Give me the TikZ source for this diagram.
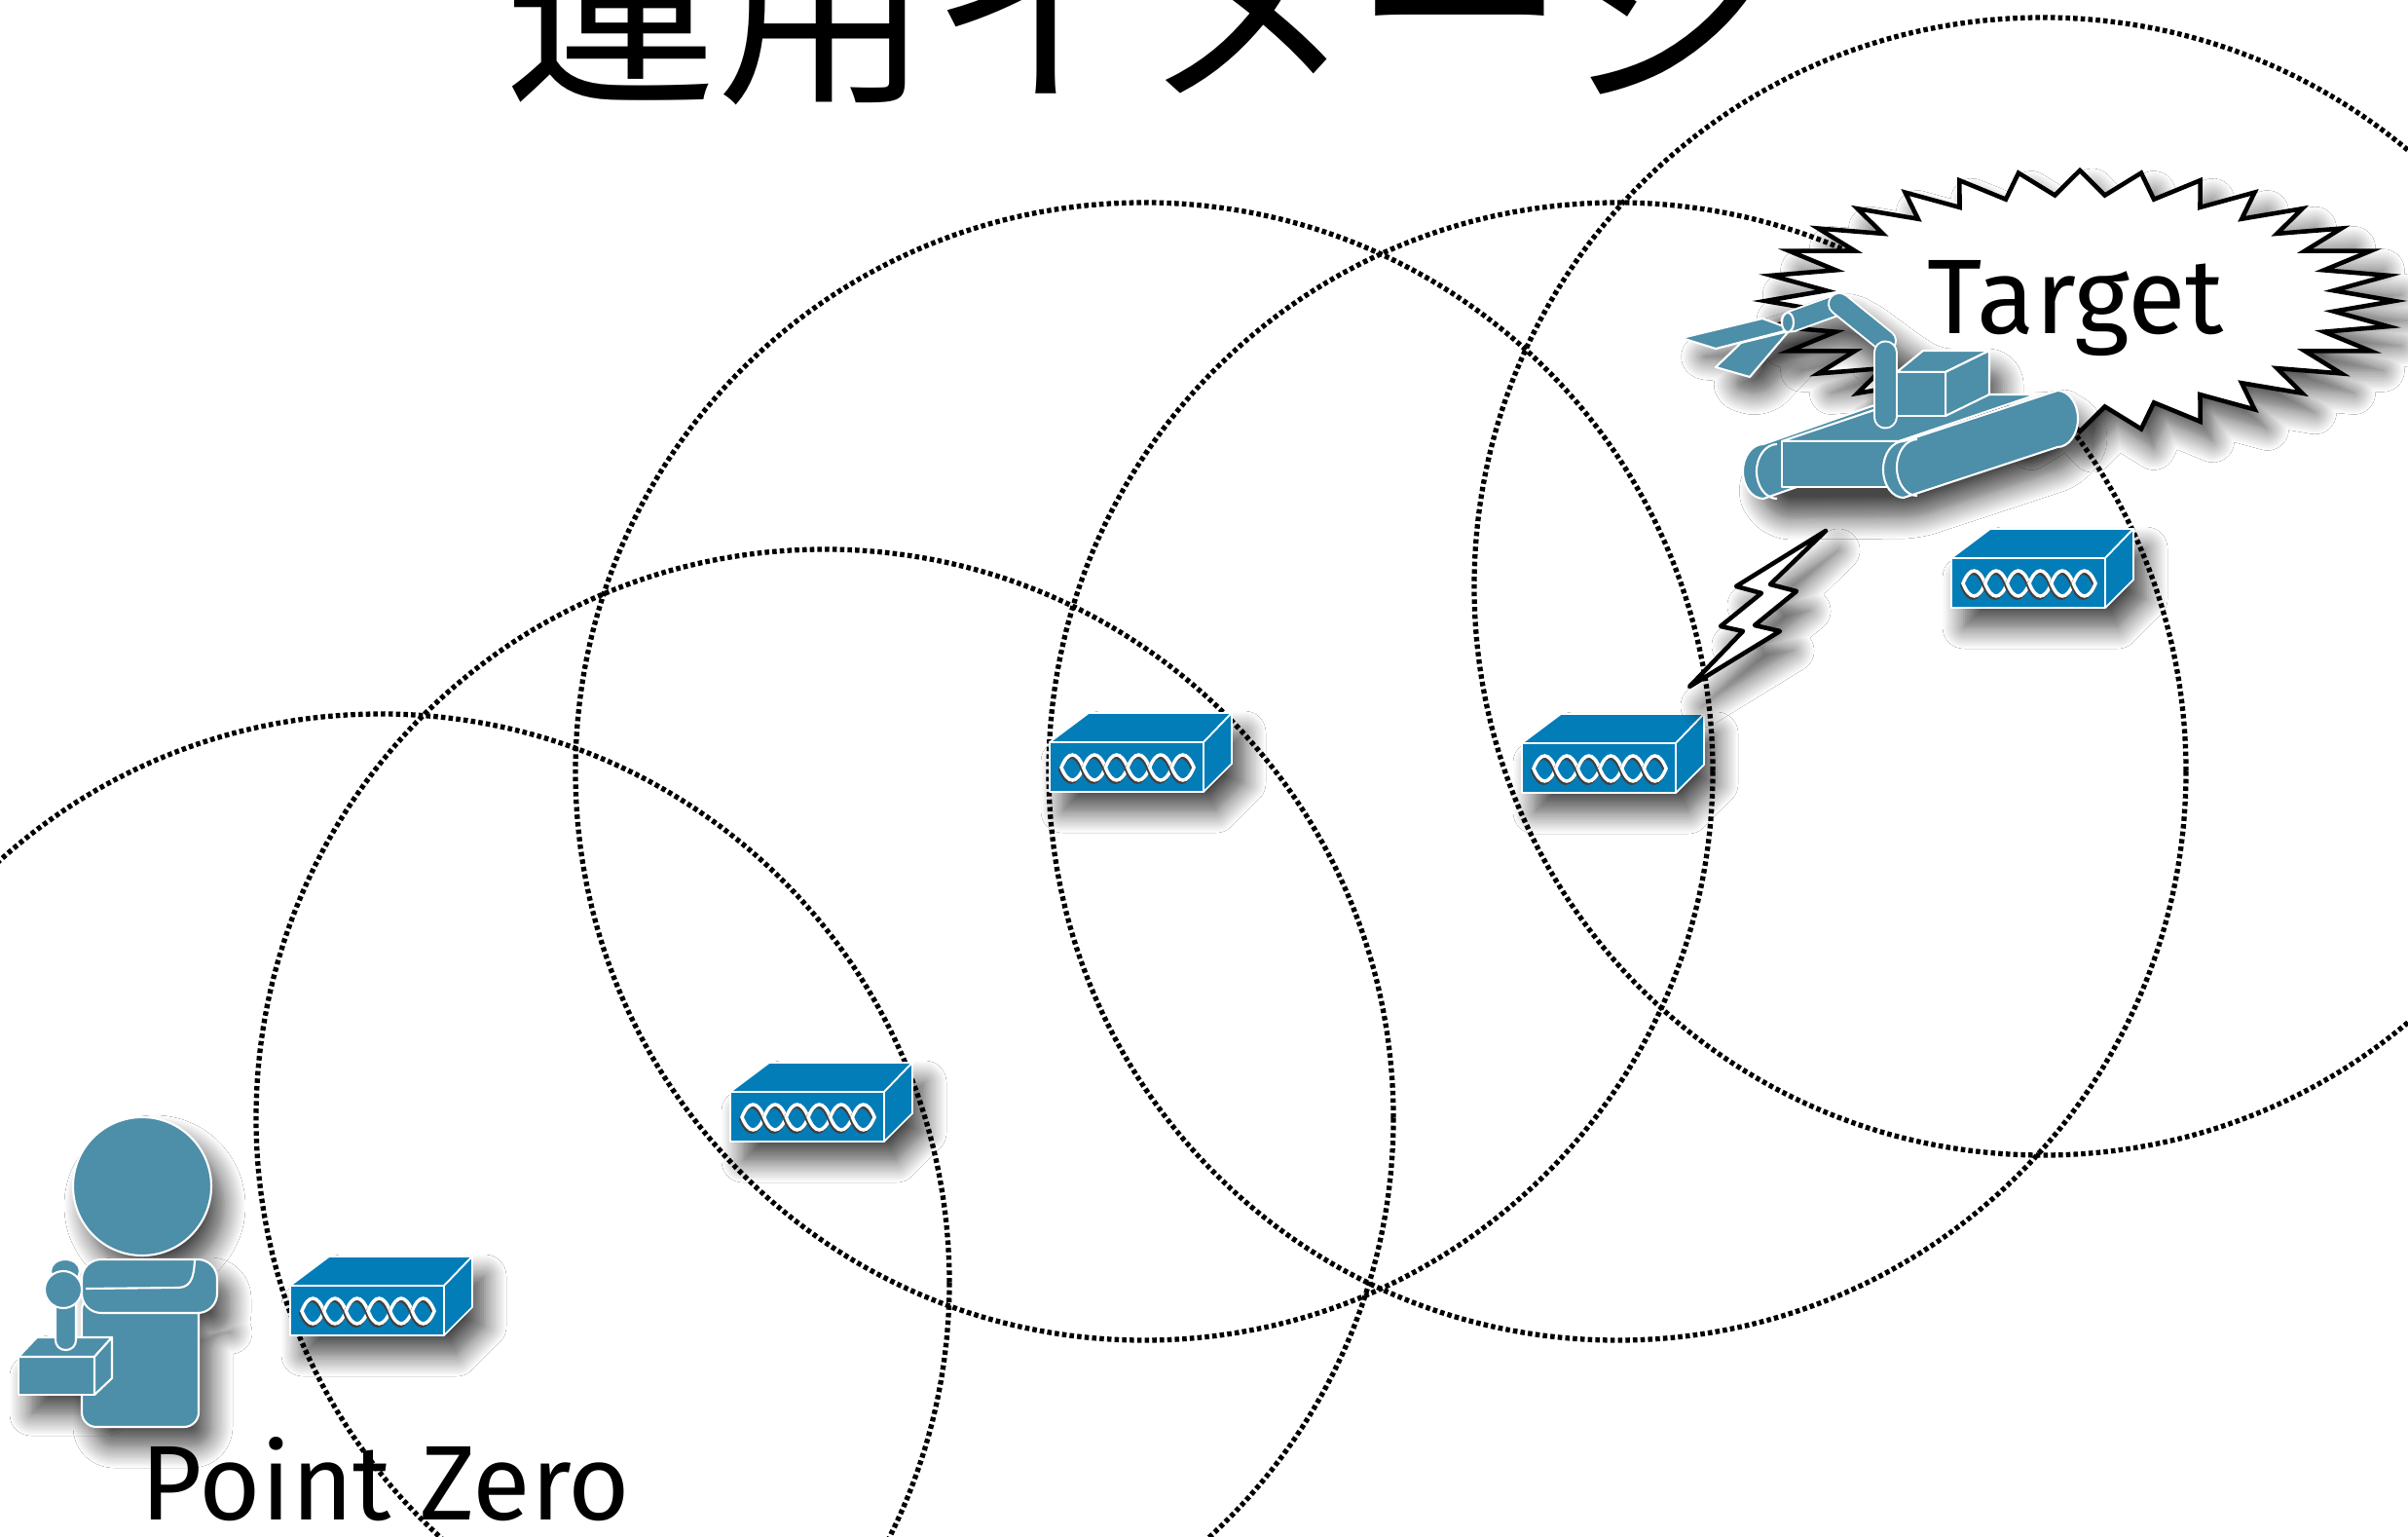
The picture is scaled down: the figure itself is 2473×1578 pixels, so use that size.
\documentclass[tikz,border=0pt]{standalone}
\usepackage{fontspec}
\setmainfont{Fira Sans}
\newfontfamily\jpfont{Noto Sans CJK JP}
\usetikzlibrary{shadows.blur}

\definecolor{robotteal}{RGB}{77,142,168}
\definecolor{nodeblue}{RGB}{3,125,184}

\tikzset{
  coverage/.style={line width=1.5pt, dash pattern=on 1.3pt off 0.9pt},
  soft shadow/.style={blur shadow={shadow xshift=1.3mm, shadow yshift=-2mm,
      shadow blur radius=2.2mm, shadow blur steps=12, shadow opacity=72}},
  teal part/.style={fill=robotteal, draw=white, line width=0.6pt, line join=round},
  box face/.style={fill=nodeblue, draw=white, line width=0.5pt, line join=round},
  ring/.style={white, line width=1pt},
  ring shade/.style={black!75, line width=1pt},
  callout/.style={fill=white, draw=black, line width=1.3pt},
  label text/.style={font=\fontsize{31}{31}\selectfont, inner sep=0pt, anchor=base},
}

\begin{document}
\begin{tikzpicture}[x=0.1mm, y=-0.1mm]
\clip (0,0) rectangle (2473,1578);
\fill[white] (0,0) rectangle (2473,1578);

% radio ranges of the relays
\draw[coverage] (391,1317) circle[radius=584];
\draw[coverage] (847,1148) circle[radius=584];
\draw[coverage] (1175,792) circle[radius=584];
\draw[coverage] (1661,792) circle[radius=584];
\draw[coverage] (2098,602) circle[radius=584];

\node[anchor=base, inner sep=0pt, font=\jpfont\fontsize{62}{62}\selectfont] (title) at (1170,90) {運用イメージ};

% relay boxes, placed by the top left corner of the front face
\foreach \x/\y in {298/1320, 750/1121, 1078/762, 1563/763, 2004/573} {
  \begin{scope}[shift={(\x,\y)}]
    \path[soft shadow] (0,0) -- (40,-30) -- (187,-30) -- (187,22) -- (158,51) -- (0,51) -- cycle;
    \filldraw[box face] (0,0) rectangle (158,51);
    \filldraw[box face] (0,0) -- (40,-30) -- (187,-30) -- (158,0) -- cycle;
    \filldraw[box face] (158,0) -- (187,-30) -- (187,22) -- (158,51) -- cycle;
    \foreach \k in {0,...,5} {
      \draw[ring shade, xshift=\k*2.267mm-0.12mm, yshift=-0.22mm]
        (12,26) .. controls (18.8,8.7) and (27.9,8.7) .. (34.7,26) .. controls (27.9,43.3) and (18.8,43.3) .. cycle;
      \draw[ring, xshift=\k*2.267mm]
        (12,26) .. controls (18.8,8.7) and (27.9,8.7) .. (34.7,26) .. controls (27.9,43.3) and (18.8,43.3) .. cycle;
    }
  \end{scope}
}

% operator with the joystick box
\path[soft shadow] (146,1218) circle[radius=71];
\path[soft shadow, rounded corners=2mm] (84,1293) -- (223,1293) -- (223,1348) -- (204,1348) -- (204,1465) -- (84,1465) -- cycle;
\path[soft shadow] (19,1393) -- (38,1373) -- (115,1373) -- (115,1415) -- (97,1432) -- (19,1432) -- cycle;
\filldraw[teal part, rounded corners=1.5mm] (84,1330) rectangle (204,1465);
\filldraw[teal part, rounded corners=2mm] (84,1293) rectangle (223,1348);
\draw[white, line width=0.6pt] (88,1323) -- (184,1322) .. controls (196,1321) and (199,1312) .. (200,1294);
\filldraw[teal part] (146,1218) circle[radius=71];
\filldraw[teal part] (19,1393) rectangle (97,1432);
\filldraw[teal part] (19,1393) -- (38,1373) -- (115,1373) -- (97,1393) -- cycle;
\filldraw[teal part] (97,1393) -- (115,1373) -- (115,1415) -- (97,1432) -- cycle;
\filldraw[teal part] (67,1305) ellipse[x radius=15, y radius=12];
\filldraw[teal part, rounded corners=1mm] (57,1328) rectangle (78,1386);
\filldraw[teal part] (65,1324) circle[radius=19];

% target callout
\filldraw[callout, line join=miter, soft shadow] (2459,309)
  \foreach \i in {1,...,63} {
    -- ({2136+(mod(\i,2)==0 ? 323 : 262)*cos(\i*5.625)}, {309+(mod(\i,2)==0 ? 134 : 109)*sin(\i*5.625)})
  } -- cycle;
\node[label text] (target) at (2132,343) {Target};

% link bolt
\filldraw[callout, line join=round, soft shadow] (1875,545) -- (1783,602) -- (1809,609) -- (1767,643) -- (1790,648)
  -- (1735,705) -- (1828,648) -- (1802,642) -- (1845,607) -- (1818,600) -- cycle;

% tracked robot
\path[soft shadow, rounded corners=1.5mm] (1727,347) -- (1812,327) -- (1880,302) -- (1900,308) -- (1950,345)
  -- (1975,360) -- (2043,360) -- (2043,405) -- (2092,405) -- (2113,401) -- (2134,430) -- (2113,459)
  -- (1955,511) -- (1811,512) -- (1790,484) -- (1811,456) -- (1924,420) -- (1924,365) -- (1890,335)
  -- (1840,342) -- (1797,387) -- (1762,377) -- (1785,352) -- cycle;
\filldraw[teal part] (1811,456) -- (1965,402) arc[start angle=-90, end angle=90, x radius=21, y radius=28]
  -- (1811,512) arc[start angle=90, end angle=270, x radius=21, y radius=28] -- cycle;
\draw[white, line width=0.6pt] (1825,456) arc[start angle=270, end angle=90, x radius=21, y radius=28];
\filldraw[teal part] (1830,453) -- (1972,405) -- (2092,405) -- (1950,453) -- cycle;
\filldraw[teal part] (1830,453) rectangle (1950,500);
\filldraw[teal part] (1955,453) -- (2113,401) arc[start angle=-90, end angle=90, x radius=21, y radius=29]
  -- (1955,511) arc[start angle=90, end angle=270, x radius=21, y radius=29] -- cycle;
\draw[white, line width=0.6pt] (1969,451) arc[start angle=270, end angle=90, x radius=21, y radius=29];
\filldraw[teal part] (1948,382) -- (1975,360) -- (2043,360) -- (1998,382) -- cycle;
\filldraw[teal part] (1998,382) -- (2043,360) -- (2043,405) -- (1998,427) -- cycle;
\filldraw[teal part] (1948,382) rectangle (1998,427);
\filldraw[teal part] (1762,377) -- (1797,387) -- (1837,340) -- (1788,352) -- cycle;
\filldraw[teal part] (1727,347) -- (1810,327) -- (1840,338) -- (1762,358) -- cycle;
\draw[white, line width=2.3mm, line cap=round] (1840,330) -- (1887,313);
\draw[robotteal, line width=1.9mm, line cap=round] (1840,330) -- (1887,313);
\filldraw[teal part] (1836,331) ellipse[x radius=6, y radius=10];
\draw[white, line width=2.4mm, line cap=round] (1889,312) -- (1936,350);
\draw[robotteal, line width=2mm, line cap=round] (1889,312) -- (1936,350);
\draw[white, line width=2.5mm, line cap=round] (1936,362) -- (1936,428);
\draw[robotteal, line width=2.1mm, line cap=round] (1936,362) -- (1936,428);

\node[label text] (pointzero) at (396,1560) {Point Zero};
\end{tikzpicture}
\end{document}
